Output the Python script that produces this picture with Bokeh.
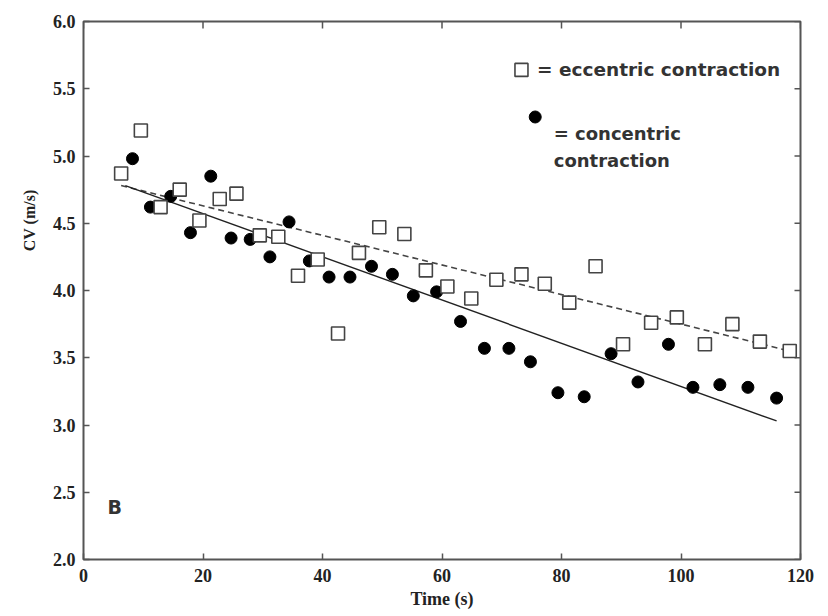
from bokeh.plotting import figure
from bokeh.models import Range1d, FixedTicker, Label, NumeralTickFormatter, Title
from bokeh.embed import file_html
from bokeh.resources import INLINE
import math

# Eccentric contraction (open squares)
ecc_t = [6.3, 9.6, 12.9, 16.1, 19.4, 22.8, 25.6, 29.5, 32.6, 35.9, 39.2, 42.6, 46.1,
         49.5, 53.7, 57.3, 60.9, 64.9, 69.1, 73.3, 77.2, 81.3, 85.7, 90.3, 95.0,
         99.3, 104.0, 108.6, 113.2, 118.2]
ecc_cv = [4.87, 5.19, 4.62, 4.75, 4.52, 4.68, 4.72, 4.41, 4.40, 4.11, 4.23, 3.68, 4.28,
          4.47, 4.42, 4.15, 4.03, 3.94, 4.08, 4.12, 4.05, 3.91, 4.18, 3.60, 3.76,
          3.80, 3.60, 3.75, 3.62, 3.55]

# Concentric contraction (filled circles)
con_t = [8.2, 11.2, 14.6, 17.9, 21.3, 24.7, 27.9, 31.2, 34.4, 37.8, 41.1, 44.6, 48.2,
         51.7, 55.2, 59.1, 63.1, 67.1, 71.2, 74.8, 79.4, 83.8, 88.3, 92.8, 97.9,
         102.0, 106.5, 111.2, 116.0]
con_cv = [4.98, 4.62, 4.70, 4.43, 4.85, 4.39, 4.38, 4.25, 4.51, 4.22, 4.10, 4.10, 4.18,
          4.12, 3.96, 3.99, 3.77, 3.57, 3.57, 3.47, 3.24, 3.21, 3.53, 3.32, 3.60,
          3.28, 3.30, 3.28, 3.20]

# Trend lines
ecc_fit_t = [6.3, 118.2]
ecc_fit_cv = [4.78, 3.55]
con_fit_t = [7.0, 116.0]
con_fit_cv = [4.78, 3.03]

x_ticks = [0, 20, 40, 60, 80, 100, 120]
y_ticks = [2.0, 2.5, 3.0, 3.5, 4.0, 4.5, 5.0, 5.5, 6.0]

X0, X1, Y0, Y1 = 0, 120, 2, 6

p = figure(width=824, height=614, output_backend="svg", toolbar_location=None,
           x_range=Range1d(X0, X1), y_range=Range1d(Y0, Y1),
           min_border_left=83, min_border_right=24, min_border_top=21, min_border_bottom=55)
p.grid.visible = False
p.background_fill_color = "white"
p.border_fill_color = "white"
p.outline_line_color = "#555555"
p.outline_line_width = 2

serif = "Liberation Serif"
for ax in [p.xaxis[0], p.yaxis[0]]:
    ax.axis_line_color = None
    ax.major_tick_in = 6
    ax.major_tick_out = 0
    ax.minor_tick_line_color = None
    ax.major_tick_line_color = "#555555"
    ax.major_tick_line_width = 1.5
    ax.major_label_text_font = serif
    ax.major_label_text_font_style = "bold"
    ax.major_label_text_font_size = "18px"
    ax.major_label_text_color = "#222222"
p.xaxis[0].ticker = FixedTicker(ticks=x_ticks)
p.yaxis[0].ticker = FixedTicker(ticks=y_ticks)
p.yaxis[0].formatter = NumeralTickFormatter(format="0.0")
p.xaxis[0].major_label_standoff = 9
p.yaxis[0].major_label_standoff = 8

p.xaxis[0].axis_label = "Time (s)"
p.xaxis[0].axis_label_text_font = serif
p.xaxis[0].axis_label_text_font_style = "bold"
p.xaxis[0].axis_label_text_font_size = "18px"
p.xaxis[0].axis_label_text_color = "#222222"
p.xaxis[0].axis_label_standoff = 4

ytitle = Title(text="CV (m/s)", align="right", offset=168, text_font=serif,
               text_font_style="bold", text_font_size="16px", text_color="#222222",
               standoff=24)
p.add_layout(ytitle, "left")

# inward ticks on top and right frame edges
p.ray(x=x_ticks, y=[Y1] * len(x_ticks), length=7, angle=-math.pi / 2,
      length_units="screen", line_color="#555555", line_width=1.5)
p.ray(x=[X1] * len(y_ticks), y=y_ticks, length=6, angle=math.pi,
      length_units="screen", line_color="#555555", line_width=1.5)

# trend lines
p.line(ecc_fit_t, ecc_fit_cv, line_color="#444444", line_width=1.6, line_dash="6 4")
p.line(con_fit_t, con_fit_cv, line_color="#222222", line_width=1.4)

# points
p.scatter(con_t, con_cv, marker="circle", size=12, fill_color="black", line_color="black")
p.scatter(ecc_t, ecc_cv, marker="square", size=13, fill_color="white",
          line_color="#444444", line_width=1.6)

# legend (manual)
p.scatter([73.3], [5.64], marker="square", size=13, fill_color="white",
          line_color="#444444", line_width=1.6)
p.scatter([75.6], [5.29], marker="circle", size=12, fill_color="black", line_color="black")

sans = "DejaVu Sans"
def lab(x, y, text, **kw):
    opts = dict(text_font=sans, text_font_style="bold", text_font_size="18px",
                text_color="#333333", text_baseline="middle", text_align="left")
    opts.update(kw)
    p.add_layout(Label(x=x, y=y, text=text, **opts))

lab(75.9, 5.64, "= eccentric contraction", text_font_size="18.5px")
lab(78.7, 5.17, "= concentric")
lab(78.7, 4.97, "contraction")
lab(4.0, 2.39, "B", text_font_size="19px")

open("out.html", "w").write(file_html(p, INLINE))
